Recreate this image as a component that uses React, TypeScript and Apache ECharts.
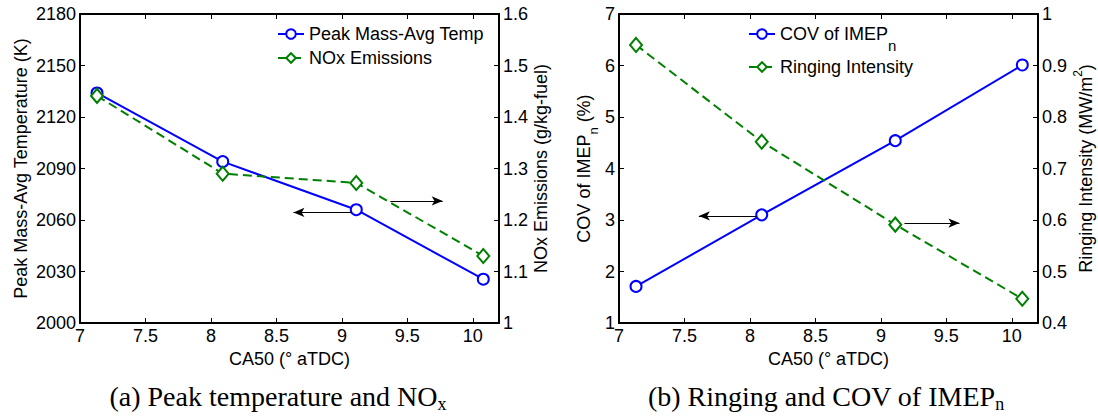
import React, { useEffect, useRef } from "react";
import * as echarts from "echarts";

// ---- data ----
const ca50 = [7.13, 8.09, 9.11, 10.08];
const peakTemp = [2134, 2094, 2066, 2025.5];
const noxEmissions = [1.441, 1.29, 1.272, 1.13];
const covImep = [1.71, 3.1, 4.54, 6.01];
const ringingIntensity = [0.94, 0.752, 0.591, 0.447];

// annotation arrows (data coordinates: [from, to])
const tempArrow = [[9.07, 2064.4], [8.63, 2064.4]];
const noxArrow = [[9.37, 1.237], [9.77, 1.237]];
const covArrow = [[8.05, 3.08], [7.61, 3.08]];
const ringArrow = [[9.18, 0.594], [9.6, 0.594]];

const SANS = "Liberation Sans, Arial, sans-serif";
const SERIF = "Liberation Serif, Times New Roman, serif";
const BLUE = "#0000ff";
const GREEN = "#008000";

const fmt = (v: number) => String(+v.toFixed(3));

function xAxes(grid: number) {
  const base = {
    gridIndex: grid,
    type: "value" as const,
    min: 7,
    max: 10.2,
    interval: 0.5,
    splitLine: { show: false },
    axisLine: { show: true, onZero: false, lineStyle: { color: "#000", width: 2 } },
    axisTick: { show: true, inside: true, length: 5, lineStyle: { color: "#000", width: 1 } },
  };
  return [
    {
      ...base,
      position: "bottom",
      name: "CA50 (° aTDC)",
      nameLocation: "middle",
      nameGap: 15,
      nameTextStyle: { fontFamily: SANS, fontSize: 18, color: "#000", verticalAlign: "top" },
      axisLabel: { show: true, margin: 4, fontFamily: SANS, fontSize: 18, color: "#000", showMaxLabel: false, formatter: fmt },
    },
    { ...base, position: "top", axisLabel: { show: false } },
  ];
}

function yAxis(grid: number, pos: "left" | "right", min: number, max: number, interval: number, name: string, gap: number, rich: any) {
  return {
    gridIndex: grid,
    type: "value" as const,
    position: pos,
    min,
    max,
    interval,
    name,
    nameLocation: "middle",
    nameGap: gap,
    nameRotate: 90,
    nameTextStyle: { fontFamily: SANS, fontSize: 18, color: "#000", rich },
    splitLine: { show: false },
    axisLine: { show: true, onZero: false, lineStyle: { color: "#000", width: 2 } },
    axisTick: { show: true, inside: true, length: 5, lineStyle: { color: "#000", width: 1 } },
    axisLabel: { margin: 4, fontFamily: SANS, fontSize: 18, color: "#000", formatter: fmt },
  };
}

function arrowLine(seg: number[][]) {
  return {
    silent: true,
    symbol: ["none", "arrow"],
    symbolSize: [7, 11],
    label: { show: false },
    lineStyle: { color: "#000", width: 1, type: "solid" },
    emphasis: { disabled: true },
    data: [[{ coord: seg[0] }, { coord: seg[1] }]],
  };
}

const pairs = (ys: number[]) => ca50.map((x, i) => [x, ys[i]]);

// rich-text helpers: main text + lowered subscript / raised superscript
const mainTok = (family: string, size: number) => ({ fontFamily: family, fontSize: size, color: "#000", fill: "#000", verticalAlign: "middle" });
const subTok = (family: string, size: number, drop: number) => ({
  fontFamily: family, fontSize: size, color: "#000", fill: "#000", verticalAlign: "middle", padding: [drop * 2, 0, 0, 0],
});
const supTok = (family: string, size: number, rise: number) => ({
  fontFamily: family, fontSize: size, color: "#000", fill: "#000", verticalAlign: "middle", padding: [0, 0, rise * 2, 0],
});

export default function App() {
  const ref = useRef<HTMLDivElement>(null);
  useEffect(() => {
    if (!ref.current) return;
    const chart = echarts.init(ref.current, undefined, { renderer: "svg" });
    const axisSubRich = { m: mainTok(SANS, 18), s: subTok(SANS, 13, 10) };
    const axisSupRich = { m: mainTok(SANS, 18), s: supTok(SANS, 12, 8) };
    const legendRich = { m: mainTok(SANS, 18), s: subTok(SANS, 15, 11.5) };
    const capRich = { m: mainTok(SERIF, 28), s: subTok(SERIF, 18, 8) };
    const option: any = {
      animation: false,
      backgroundColor: "#fff",
      grid: [
        { left: 80, top: 14, width: 419, height: 309 },
        { left: 619, top: 14, width: 419, height: 309 },
      ],
      xAxis: [...xAxes(0), ...xAxes(1)],
      yAxis: [
        yAxis(0, "left", 2000, 2180, 30, "Peak Mass-Avg Temperature (K)", 50, {}),
        yAxis(0, "right", 1, 1.6, 0.1, "NOx Emissions (g/kg-fuel)", 29, {}),
        yAxis(1, "left", 1, 7, 1, "{m|COV of IMEP}{s|n}{m| (%)}", 19, axisSubRich),
        yAxis(1, "right", 0.4, 1, 0.1, "{m|Ringing Intensity (MW/m}{s|2}{m|)}", 34, axisSupRich),
      ],
      legend: [
        {
          data: ["Peak Mass-Avg Temp", "NOx Emissions"],
          orient: "vertical",
          left: 277,
          top: 25,
          padding: 0,
          itemWidth: 26,
          itemHeight: 12,
          itemGap: 6,
          textStyle: { fontFamily: SANS, fontSize: 18, color: "#000" },
        },
        {
          data: ["COV of IMEPn", "Ringing Intensity"],
          orient: "vertical",
          left: 748,
          top: 25,
          padding: 0,
          itemWidth: 26,
          itemHeight: 12,
          itemGap: 5,
          formatter: (n: string) => (n === "COV of IMEPn" ? "{m|COV of IMEP}{s|n}" : "{m|" + n + "}"),
          textStyle: { fontFamily: SANS, fontSize: 18, color: "#000", rich: legendRich },
        },
      ],
      series: [
        {
          name: "Peak Mass-Avg Temp",
          type: "line",
          xAxisIndex: 0,
          yAxisIndex: 0,
          data: pairs(peakTemp),
          symbol: "emptyCircle",
          symbolSize: 11,
          lineStyle: { color: BLUE, width: 2 },
          itemStyle: { color: BLUE, borderWidth: 2 },
          emphasis: { disabled: true },
          markLine: arrowLine(tempArrow),
        },
        {
          name: "NOx Emissions",
          type: "line",
          xAxisIndex: 0,
          yAxisIndex: 1,
          data: pairs(noxEmissions),
          symbol: "emptyDiamond",
          symbolSize: [12, 14],
          lineStyle: { color: GREEN, width: 2, type: [9, 5] },
          itemStyle: { color: GREEN, borderWidth: 2 },
          emphasis: { disabled: true },
          markLine: arrowLine(noxArrow),
        },
        {
          name: "COV of IMEPn",
          type: "line",
          xAxisIndex: 2,
          yAxisIndex: 2,
          data: pairs(covImep),
          symbol: "emptyCircle",
          symbolSize: 11,
          lineStyle: { color: BLUE, width: 2 },
          itemStyle: { color: BLUE, borderWidth: 2 },
          emphasis: { disabled: true },
          markLine: arrowLine(covArrow),
        },
        {
          name: "Ringing Intensity",
          type: "line",
          xAxisIndex: 2,
          yAxisIndex: 3,
          data: pairs(ringingIntensity),
          symbol: "emptyDiamond",
          symbolSize: [12, 14],
          lineStyle: { color: GREEN, width: 2, type: [9, 5] },
          itemStyle: { color: GREEN, borderWidth: 2 },
          emphasis: { disabled: true },
          markLine: arrowLine(ringArrow),
        },
      ],
      graphic: [
        {
          type: "text",
          x: 278,
          y: 396,
          style: {
            text: "{m|(a) Peak temperature and NO}{s|x}",
            fontFamily: SERIF,
            fontSize: 28,
            fill: "#000",
            align: "center",
            verticalAlign: "middle",
            rich: capRich,
          },
        },
        {
          type: "text",
          x: 826,
          y: 396,
          style: {
            text: "{m|(b) Ringing and COV of IMEP}{s|n}",
            fontFamily: SERIF,
            fontSize: 28,
            fill: "#000",
            align: "center",
            verticalAlign: "middle",
            rich: capRich,
          },
        },
      ],
    };
    chart.setOption(option);
    return () => chart.dispose();
  }, []);
  return (
    <div
      ref={ref}
      style={{ position: "absolute", left: 0, top: 0, width: 1098, height: 417, background: "#fff" }}
    />
  );
}
